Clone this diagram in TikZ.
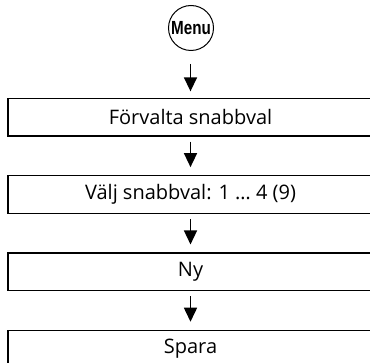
\documentclass[tikz,border=0pt]{standalone}
\usepackage{fontspec}
\setmainfont{Open Sans}
\newfontfamily\menufont[FakeStretch=0.8]{Liberation Sans}
\usetikzlibrary{positioning,arrows.meta}

\tikzset{
    stepbox/.style={draw, line width=1.3pt, minimum width=365pt, minimum height=37.5pt,
        inner sep=0pt, font=\fontsize{20}{24}\selectfont},
    menucircle/.style={draw, circle, line width=1pt, minimum size=45pt, inner sep=0pt,
        font=\menufont\bfseries\fontsize{19}{22}\selectfont},
    flowarrow/.style={line width=1.5pt, -{Triangle[length=14pt,width=13pt]}}
}

\begin{document}
\begin{tikzpicture}[x=1pt, y=-1pt]
        \useasboundingbox (0, 0) rectangle (370, 363);

        % Draw the start button
        \node[menucircle] (menu) at (191, 28) {Menu};

        % Draw the steps
        \node[stepbox] (forvalta) at (190.5, 117.25) {Förvalta snabbval};
        \node[stepbox, below=38.5pt of forvalta] (valj) {Välj snabbval: 1 … 4 (9)};
        \node[stepbox, below=38.5pt of valj] (ny) {Ny};
        \node[stepbox, below=38.5pt of ny] (spara) {Spara};

        % Draw the arrows
        \draw[flowarrow, shorten <=13pt, shorten >=6.5pt] (forvalta.north |- menu.south) -- (forvalta.north);
        \draw[flowarrow, shorten <=5pt, shorten >=8pt] (forvalta) -- (valj);
        \draw[flowarrow, shorten <=5pt, shorten >=8pt] (valj) -- (ny);
        \draw[flowarrow, shorten <=5pt, shorten >=8pt] (ny) -- (spara);
    \end{tikzpicture}
\end{document}
